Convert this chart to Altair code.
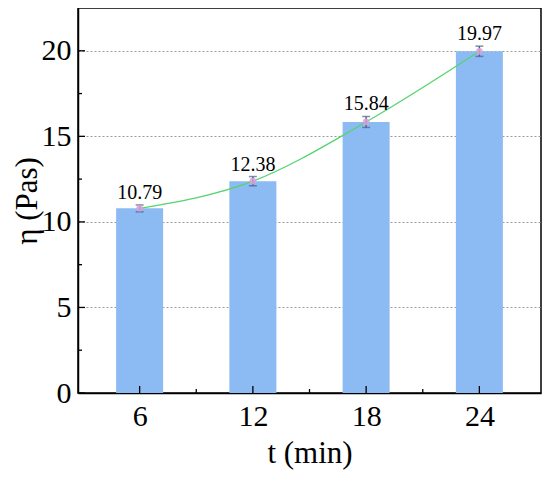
import altair as alt
import pandas as pd

# data
times = [6, 12, 18, 24]
eta = [10.79, 12.38, 15.84, 19.97]
err = [0.20, 0.27, 0.32, 0.30]
labels = ["10.79", "12.38", "15.84", "19.97"]

x_major = [6, 12, 18, 24]
x_minor = [9, 15, 21]
y_major = [0, 5, 10, 15, 20]
y_minor = [2.5, 7.5, 12.5, 17.5]

df = pd.DataFrame({"t": times, "eta": eta, "err": err, "label": labels})
df["lo"] = df["eta"] - df["err"]
df["hi"] = df["eta"] + df["err"]

FONT = "Liberation Serif"
xscale = alt.Scale(domain=[3, 27], nice=False, zero=False)
yscale = alt.Scale(domain=[0, 22.5], nice=False)

base = alt.Chart(df)

bars = base.mark_bar(size=47, color="#8cbbf4").encode(
    x=alt.X("t:Q", scale=xscale,
            axis=alt.Axis(values=x_major, title="t (min)", grid=False, ticks=False,
                          labelPadding=8, titlePadding=7)),
    y=alt.Y("eta:Q", scale=yscale,
            axis=alt.Axis(values=y_major, title="η (Pas)", grid=True, ticks=False,
                          labelPadding=7, titleX=-35)),
)

line = base.mark_line(color="#55d46e", strokeWidth=1.3, interpolate="monotone").encode(
    x=alt.X("t:Q", scale=xscale), y=alt.Y("eta:Q", scale=yscale)
)

err_rule = base.mark_rule(color="#4d5f8f", strokeWidth=1.5).encode(
    x=alt.X("t:Q", scale=xscale), y=alt.Y("lo:Q", scale=yscale), y2="hi:Q"
)
cap_lo = base.mark_tick(color="#4d5f8f", orient="horizontal", size=8, thickness=1.5).encode(
    x=alt.X("t:Q", scale=xscale), y=alt.Y("lo:Q", scale=yscale)
)
cap_hi = base.mark_tick(color="#4d5f8f", orient="horizontal", size=8, thickness=1.5).encode(
    x=alt.X("t:Q", scale=xscale), y=alt.Y("hi:Q", scale=yscale)
)
pts = base.mark_circle(color="#d8a2d8", size=45, opacity=0.85).encode(
    x=alt.X("t:Q", scale=xscale), y=alt.Y("eta:Q", scale=yscale)
)
text = base.mark_text(font=FONT, fontSize=20, baseline="alphabetic", dy=-6, color="black").encode(
    x=alt.X("t:Q", scale=xscale), y=alt.Y("hi:Q", scale=yscale), text="label:N"
)

# inward axis ticks drawn as short rules positioned through the scales
xmaj = alt.Chart(pd.DataFrame({"v": x_major})).mark_rule(color="black", strokeWidth=1.3).encode(
    x=alt.X("v:Q", scale=xscale), y=alt.value(385), y2=alt.value(378))
xmin = alt.Chart(pd.DataFrame({"v": x_minor})).mark_rule(color="black", strokeWidth=1.3).encode(
    x=alt.X("v:Q", scale=xscale), y=alt.value(385), y2=alt.value(381))
ymaj = alt.Chart(pd.DataFrame({"v": y_major})).mark_rule(color="black", strokeWidth=1.3).encode(
    y=alt.Y("v:Q", scale=yscale), x=alt.value(0), x2=alt.value(7))
ymin = alt.Chart(pd.DataFrame({"v": y_minor})).mark_rule(color="black", strokeWidth=1.3).encode(
    y=alt.Y("v:Q", scale=yscale), x=alt.value(0), x2=alt.value(4))

chart = alt.layer(bars, line, err_rule, cap_lo, cap_hi, pts, text, xmaj, xmin, ymaj, ymin).properties(
    width=463, height=385,
    autosize=alt.AutoSizeParams(type="none"),
    padding={"left": 70, "top": 0, "right": 1, "bottom": 78},
).configure_view(
    stroke="black", strokeWidth=1.5
).configure_axis(
    labelFont=FONT, titleFont=FONT, labelFontSize=30, titleFontSize=31,
    titleFontWeight="normal", labelColor="black", titleColor="black",
    domainColor="black", domainWidth=1.5,
    gridColor="#9a9a9a", gridDash=[2, 2], gridWidth=1,
)

chart.save("out.html", embed_options={"renderer": "svg", "actions": False})
